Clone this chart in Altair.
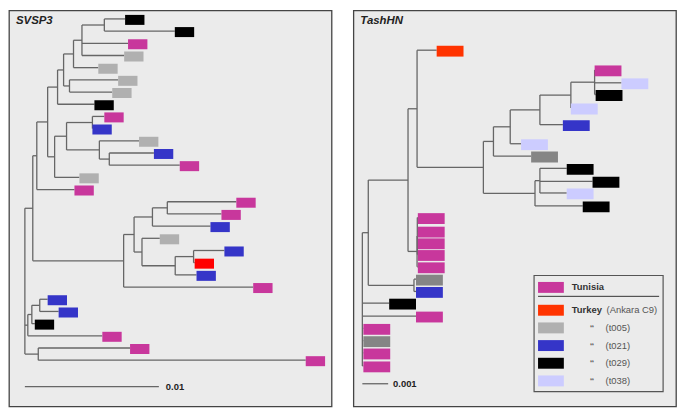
import altair as alt
import pandas as pd

# ---------------- Panel 1: SVSP3 (distances in units of 0.001 subst./site) ----------------
svsp_node_names = ["Z", "U", "M", "L", "F", "E", "C", "B", "A", "D", "K", "J", "G", "I", "H",
                   "T", "S", "O", "N", "R", "Q", "P", "X", "W", "V", "Y"]
svsp_node_parent = [None, "Z", "U", "M", "L", "F", "E", "C", "B", "E", "L", "K", "J", "J", "I",
                    "U", "T", "S", "O", "S", "R", "Q", "Z", "X", "W", "Z"]
svsp_node_dist = [0, 0.59, 0.89, 1.70, 2.44, 2.89, 3.63, 4.26, 5.93, 3.33, 2.22, 3.11, 5.04, 5.56, 6.30,
                  7.37, 8.15, 9.52, 10.63, 8.74, 11.22, 12.59, 0.22, 0.52, 1.11, 1.00]
svsp_leaf_parent = ["A", "A", "B", "B", "C", "D", "D", "F", "G", "G", "I", "H", "H", "K", "M",
                    "N", "N", "O", "R", "P", "P", "Q", "T", "V", "V", "W", "X", "Y", "Y"]
svsp_leaf_dist = [7.48, 11.19, 7.70, 7.41, 5.48, 6.96, 6.52, 5.19, 5.93, 5.04, 8.52, 9.63, 11.56, 4.07, 3.70,
                  15.78, 14.67, 13.85, 10.07, 14.89, 12.67, 12.81, 17.04, 1.70, 2.52, 0.74, 5.78, 7.85, 20.96]
svsp_leaf_row = list(range(29))
svsp_leaf_group = ["t029", "t029", "Tunisia", "t005", "t005", "t005", "t005", "t029", "Tunisia", "t021",
                   "t005", "t021", "Tunisia", "t005", "Tunisia", "Tunisia", "Tunisia", "t021", "t005", "t021",
                   "Ankara C9", "t021", "Tunisia", "t021", "t021", "t029", "Tunisia", "Tunisia", "Tunisia"]

# ---------------- Panel 2: TashHN ----------------
tash_node_names = ["R2", "m1", "k1", "i1", "h1", "e1", "d1", "c1", "b1", "a1", "g1", "f1", "j1", "j2", "l1"]
tash_node_parent = [None, "R2", "m1", "k1", "i1", "h1", "e1", "d1", "c1", "b1", "h1", "g1", "k1", "j1", "m1"]
tash_node_dist = [0, 0.23, 1.77, 2.12, 4.69, 5.08, 5.73, 6.88, 8.08, 9.00, 6.69, 6.88, 2.12, 2.13, 2.00]
tash_leaf_parent = ["i1", "a1", "a1", "a1", "b1", "c1", "d1", "e1", "f1", "f1", "f1", "g1",
                    "j2", "j2", "j2", "j2", "j1", "l1", "l1", "R2", "R2", "R2", "R2", "R2", "R2"]
tash_leaf_dist = [2.88, 9.00, 10.04, 9.04, 8.08, 7.77, 6.15, 6.54, 7.92, 8.92, 7.92, 8.54,
                  2.15, 2.15, 2.15, 2.15, 2.15, 2.08, 2.08, 1.04, 2.08, 0.04, 0.04, 0.04, 0.04]
tash_leaf_row = [0, 1.6, 2.65, 3.6, 4.7, 6.05, 7.6, 8.6, 9.6, 10.65, 11.6, 12.65,
                 13.6, 14.7, 15.65, 16.6, 17.6, 18.6, 19.6, 20.55, 21.6, 22.6, 23.6, 24.6, 25.65]
tash_leaf_group = ["Ankara C9", "Tunisia", "t038", "t029", "t038", "t021", "t038", "t005", "t029", "t029",
                   "t038", "t029", "Tunisia", "Tunisia", "Tunisia", "Tunisia", "Tunisia", "t005", "t021",
                   "t029", "Tunisia", "Tunisia", "t005", "Tunisia", "Tunisia"]

groups = ["Tunisia", "Ankara C9", "t005", "t021", "t029", "t038"]
svsp_colors = ["#c8379c", "#ff0000", "#b0b0b0", "#3535c8", "#000000", "#ccccff"]
tash_colors = ["#c8379c", "#ff3300", "#858585", "#3535c8", "#000000", "#ccccff"]
legend_colors = ["#c8379c", "#ff3300", "#b0b0b0", "#3535c8", "#000000", "#ccccff"]
legend_bold = ["Tunisia", "Turkey", "", "", "", ""]
legend_note = ["", "(Ankara C9)", "(t005)", "(t021)", "(t029)", "(t038)"]

LINE = "#666666"
FONT = "Liberation Sans"
PW, PH = 325, 399


def build_tree(names, parents, dists, l_parent, l_dist, l_row):
    dist = dict(zip(names, dists))
    parent = dict(zip(names, parents))
    children = {n: [] for n in names}
    for n, p in zip(names, parents):
        if p is not None:
            children[p].append(n)
    ypos = {}
    for i, (p, d, r) in enumerate(zip(l_parent, l_dist, l_row)):
        lid = f"leaf{i}"
        children[p].append(lid)
        dist[lid] = d
        parent[lid] = p
        ypos[lid] = r

    def gety(n):
        if n not in ypos:
            ys = [gety(c) for c in children[n]]
            ypos[n] = (min(ys) + max(ys)) / 2
        return ypos[n]

    root = [n for n in names if parent[n] is None][0]
    gety(root)
    segs = []
    for n in dist:
        p = parent[n]
        if p is not None:
            segs.append(dict(x=dist[p], x2=dist[n], y=ypos[n], y2=ypos[n]))
    for n in names:
        ys = [ypos[c] for c in children[n]]
        segs.append(dict(x=dist[n], x2=dist[n], y=min(ys), y2=max(ys)))
    return pd.DataFrame(segs)


def panel(title, seg_df, l_dist, l_row, l_group, colors, xdom, ydom, rect_w, rect_h, rect_dy,
          bar_len, bar_row, bar_label, label_x):
    xs = alt.Scale(domain=xdom, nice=False, zero=False)
    ys = alt.Scale(domain=ydom, nice=False, zero=False, reverse=True)
    branches = alt.Chart(seg_df).mark_rule(color=LINE, strokeWidth=1.3).encode(
        x=alt.X("x:Q", scale=xs, axis=None), x2="x2:Q",
        y=alt.Y("y:Q", scale=ys, axis=None), y2="y2:Q")
    cmap = dict(zip(groups, colors))
    leaf_df = pd.DataFrame({"d": l_dist, "row": l_row, "group": l_group})
    leaf_df["col"] = leaf_df["group"].map(cmap)
    leaves = alt.Chart(leaf_df).transform_calculate(
        xe=f"datum.d + {rect_w}", yt=f"datum.row + {rect_dy - rect_h}", yb=f"datum.row + {rect_dy + rect_h}"
    ).mark_rect().encode(
        x=alt.X("d:Q", scale=xs, axis=None), x2="xe:Q",
        y=alt.Y("yt:Q", scale=ys, axis=None), y2="yb:Q",
        color=alt.Color("col:N", scale=None, legend=None))
    bar_df = pd.DataFrame({"x": [0], "x2": [bar_len], "y": [bar_row], "lx": [label_x], "label": [bar_label]})
    bar = alt.Chart(bar_df).mark_rule(color=LINE, strokeWidth=1.3).encode(
        x=alt.X("x:Q", scale=xs, axis=None), x2="x2:Q", y=alt.Y("y:Q", scale=ys, axis=None))
    bar_text = alt.Chart(bar_df).mark_text(align="left", baseline="middle", font=FONT, fontSize=9.5,
                                           fontWeight="bold", color="#222").encode(
        x=alt.X("lx:Q", scale=xs, axis=None), y=alt.Y("y:Q", scale=ys, axis=None), text="label:N")
    title_df = pd.DataFrame({"t": [title]})
    ttl = alt.Chart(title_df).mark_text(align="left", baseline="middle", font=FONT, fontSize=11.5,
                                        fontWeight="bold", fontStyle="italic", color="#222").encode(
        x=alt.value(7), y=alt.value(10.5), text="t:N")
    return [branches, leaves, bar, bar_text, ttl]


svsp_segs = build_tree(svsp_node_names, svsp_node_parent, svsp_node_dist,
                       svsp_leaf_parent, svsp_leaf_dist, svsp_leaf_row)
tash_segs = build_tree(tash_node_names, tash_node_parent, tash_node_dist,
                       tash_leaf_parent, tash_leaf_dist, tash_leaf_row)

p1_layers = panel("SVSP3", svsp_segs, svsp_leaf_dist, svsp_leaf_row, svsp_leaf_group, svsp_colors,
                  [-1.185, 22.889], [-0.692, 31.80], 1.444, 0.41, 0.08, 10, 30.17, "0.01", 10.52)
p2_layers = panel("TashHN", tash_segs, tash_leaf_dist, tash_leaf_row, tash_leaf_group, tash_colors,
                  [-0.346, 12.154], [-3.226, 28.95], 1.04, 0.44, 0.08, 1, 27.1, "0.001", 1.19)

# ---- legend (layout in pixels inside panel 2) ----
leg_y = [279] + [302 + 17.8 * (i - 1) for i in range(1, len(groups))]
leg_df = pd.DataFrame({
    "col": legend_colors, "bold": legend_bold, "note": legend_note,
    "quote": ["", "", "\u201c", "\u201c", "\u201c", "\u201c"],
    "yc": leg_y,
})
leg_df["yt"] = leg_df["yc"] - 5.5
leg_df["yb"] = leg_df["yc"] + 5.5
leg_df["nx"] = [0, 255, 254, 254, 254, 254]
box = alt.Chart(pd.DataFrame({"a": [0]})).mark_rect(fill="#ebebeb", stroke="#555", strokeWidth=1.2).encode(
    x=alt.value(182), x2=alt.value(312), y=alt.value(267), y2=alt.value(384))
sep = alt.Chart(pd.DataFrame({"a": [0]})).mark_rule(color="#333", strokeWidth=1).encode(
    x=alt.value(186), x2=alt.value(308), y=alt.value(288))
leg_rect = alt.Chart(leg_df).mark_rect().encode(
    x=alt.value(186), x2=alt.value(212),
    y=alt.Y("yt:Q", scale=None), y2="yb:Q",
    color=alt.Color("col:N", scale=None, legend=None))
leg_bold = alt.Chart(leg_df).mark_text(align="left", baseline="middle", font=FONT, fontSize=9.5,
                                       fontWeight="bold", color="#333").encode(
    x=alt.value(220), y=alt.Y("yc:Q", scale=None), text="bold:N")
leg_quote = alt.Chart(leg_df).mark_text(align="left", baseline="middle", font=FONT, fontSize=9,
                                        fontWeight="bold", color="#666").encode(
    x=alt.value(238), y=alt.Y("yc:Q", scale=None), text="quote:N")
leg_note = alt.Chart(leg_df).mark_text(align="left", baseline="middle", font=FONT, fontSize=9.5,
                                       color="#555").encode(
    x=alt.X("nx:Q", scale=None), y=alt.Y("yc:Q", scale=None), text="note:N")

p1 = alt.layer(*p1_layers).properties(width=PW, height=PH)
p2 = alt.layer(*p2_layers, box, sep, leg_rect, leg_bold, leg_quote, leg_note).properties(width=PW, height=PH)

chart = alt.hconcat(p1, p2, spacing=20).properties(padding=0).configure_view(
    fill="#ebebeb", stroke="#444", strokeWidth=1.3)

chart.save("out.html", embed_options={"renderer": "svg", "actions": False})
